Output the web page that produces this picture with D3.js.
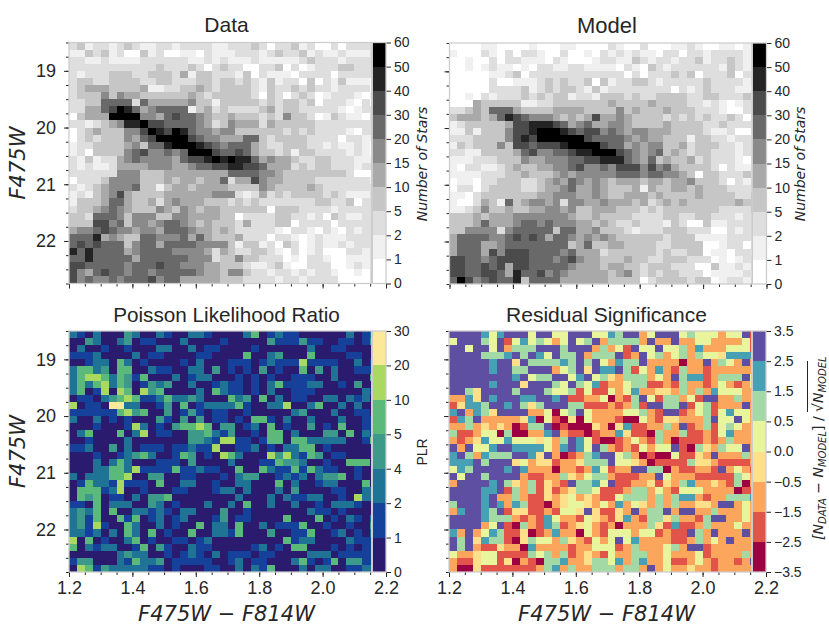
<!DOCTYPE html>
<html>
<head>
<meta charset="utf-8">
<script src="https://d3js.org/d3.v7.min.js"></script>
<style>
  body { margin: 0; background: white; }
  text { font-family: "Liberation Sans", Arial, sans-serif; fill: #262626; }
</style>
</head>
<body>
<div id="chart"></div>
<script>
// Axis extents of the colour magnitude diagram
const colorRange = [1.2, 2.2];
const magRange = [18.5, 22.75];
const binWidth = 0.025;
const binHeight = 0.125;

// Colour bar boundaries
const starBounds = [0, 1, 2, 5, 10, 15, 20, 30, 40, 50, 60];
const plrBounds = [0, 1, 2, 4, 5, 10, 20, 30];
const sigBounds = [-3.5, -2.5, -1.5, -0.5, 0, 0.5, 1.5, 2.5, 3.5];

const starColors = ["#ffffff", "#f0f0f0", "#dedede", "#c6c6c6", "#a9a9a9", "#8a8a8a", "#696969", "#4b4b4b", "#242424", "#000000"];
const plrColors = ["#2b1b6e", "#15419a", "#1f7495", "#3d9a8b", "#5bb97a", "#a9d961", "#fbe999"];
const sigColors = ["#9e0142", "#e2534a", "#fca55c", "#fee08b", "#e8f59c", "#a2d9a4", "#47a0b3", "#5f4fa2"];

// Each row is one magnitude bin from the top, each digit the colour bin of one colour column
const dataRows = [
  "231221232112212222112223202231200202222",
  "113231200312001102111222123223121121112",
  "221121111222222112121112111112322212222",
  "222222222223222320232200223020122233222",
  "212223332233324133222130211102222022222",
  "233223333223322233233232131220302131110",
  "234443333411223343233332132232322122220",
  "233353544333333432333332032023201222101",
  "223366662644444533133333232332302221020",
  "224467986456666134232222342332222210122",
  "034449999554676654334333232533201321102",
  "221234588977666654235444243333322222222",
  "023433355798798655455333333232322221022",
  "023233354679999765544466323333222202211",
  "122333345366899987656664322333221211210",
  "120333356755656999766764332313322221210",
  "213122456555546778989886454432233222111",
  "212112444455544566778877644423233222122",
  "222222555333444444446666554333333332000",
  "022235555333434434462447544333322222221",
  "212345556331344344443333543333432222222",
  "121345743333444444555212423233332321112",
  "133346643342454443332323222222233223022",
  "233456543335435434433333303332222122222",
  "332666535553355444433022223322120321122",
  "333775635545665434333242223302222022222",
  "455676554554666544343222221022102102122",
  "666845433665556464333422202210121112222",
  "676766635664666655553133120320121121222",
  "868666645666655554243223321020120002212",
  "668666664666666555233533222010221001112",
  "776666656667665554433321123100222001212",
  "754676656656666654435532212212122100102",
  "756556566675664444433322221221222200002"
];

const modelRows = [
  "000011000010001100002100200011210011012",
  "100021020221002001021212110220221222212",
  "001002022111021000122113212212231223212",
  "001012110102211221111021032122222213212",
  "000001123022222222222202022232302223022",
  "000002001112323223031223321222223222212",
  "000002222312323321312222222202123222111",
  "001021222323233122133323223333223322232",
  "000433333112233333334333343333221210122",
  "223436664333344443333534333433322210022",
  "344434687655543434744543333232323223202",
  "123333347788876456445543333433332232222",
  "113133357789998767756545544433332112002",
  "222333357879999997666654544333133221222",
  "132333537767778999976645455334233322122",
  "221133334675566788999765456343233222122",
  "111222333544555667788865463433423222102",
  "102211234334455675565777575643333202112",
  "111122233433345455555666566554303322232",
  "011022333223454654543444344344533320212",
  "022023333223445644543334143344343332222",
  "110233333334455544543344434333343333223",
  "100243163455452554454443423434333333433",
  "112353343344554533444333232333333322223",
  "333434445555555433433332222332233222122",
  "333464445665655544343223222132003112222",
  "335555256666636644533321222333222002122",
  "466665567676466545454333333233311112222",
  "466644566666666346334433332233330012202",
  "466647577766665644423333332322330110221",
  "776656777766656754433343322333222010122",
  "776676747766666544434433233322200311212",
  "776677648667565444443453232332220111121",
  "697567668366664444443333023333233012212"
];

const plrRows = [
  "210200032002100221000024012110000002012",
  "003200230110002000010000031113110011013",
  "020010010002200201100001000000200110000",
  "111200002011000011000040023000400001100",
  "001220420100001020001110121115111100201",
  "244230440021100220301010301004030200111",
  "245542431400020122000101010011100200004",
  "242452430132300200121101024111220010300",
  "240150540534000020421101020011100000021",
  "011023454112422320004230402011002202120",
  "501106622001304012222410022500240020200",
  "111111453400301310110010000023000200110",
  "200201010003103030110104410200200020011",
  "000100015201034454033012040100301040011",
  "024000402501100334213001044020003304021",
  "001000020000000332155110144044222220014",
  "112003020111011211500112010224401000000",
  "000100123420014301054200053521430110000",
  "000202420001110300002000114332001004440",
  "000224425111141121100400421141421100100",
  "202224450033001100010233001212023340100",
  "014221511104002200100220004020012200040",
  "044412500100011000122020002030000110022",
  "043401102033400000000200020211220010522",
  "110402220032010002002040020020010222100",
  "232404002212102200030010000000211010000",
  "231400414012012000130110000400040102102",
  "231510042002010040220400201114001001003",
  "221202042040100400221400030011400120102",
  "504010024010011012000000000412200002111",
  "402122001403100211000001201044000101011",
  "000000232200101210201110110000222011111",
  "133000214223011111001201100024101403311",
  "054132222211010001100202140002022001122"
];

const sigRows = [
  "777764677747744777446577247774544424471",
  "477754714645424745725555272272244222241",
  "774774725557775777252417447445262224441",
  "777755567576475572555712745245254436666",
  "777776773755556575742655722220227254272",
  "777776775577724573766751426215221222222",
  "777777776745577467453255524275661255574",
  "777776777377754754612245511215221242124",
  "775377775777544514114246223325252644422",
  "226376777667767112240215741552417722522",
  "136657767535777551112125177557145122272",
  "672653777722404574222244521771245146442",
  "165722222360410304222100421332225744742",
  "225232320155701000320361122527125145422",
  "511244050022672110122631105225112146222",
  "212364464443425764100124215201112125222",
  "727446776666426764752121424471053254472",
  "675265557763720125677452010041132722252",
  "666757773423312235557443201111533211112",
  "465777767622202212641227755021122172421",
  "747757777211225324552111227422211111542",
  "277776753251321755647112231325622321502",
  "777766715251312355411125524214442222011",
  "777767225211323423211455525256621225556",
  "577767626511023443242624325252233277242",
  "267765713311214437311327255727722522242",
  "777765552121642214321362155352215772242",
  "777724710521651234212022253161125222422",
  "627246511301262204214442441211752722272",
  "757365510354425321424746222211252427222",
  "757211322062222122444125222452771222222",
  "422344111154525123214225522422241222252",
  "211344130210556223554625622411242122127",
  "200311111112562522555255272422322122222"
];

const width = 829, height = 629;

const svg = d3.select("#chart")
    .append("svg")
    .attr("width", width)
    .attr("height", height);

// Panel positions in pixels
const panels = [
  {title: "Data", rows: dataRows, colors: starColors, bounds: starBounds, left: 69, top: 42.5, titleSize: 21, titleY: 32, showX: false, showY: true},
  {title: "Model", rows: modelRows, colors: starColors, bounds: starBounds, left: 449.5, top: 43, titleSize: 22, titleY: 33, showX: false, showY: false},
  {title: "Poisson Likelihood Ratio", rows: plrRows, colors: plrColors, bounds: plrBounds, left: 69, top: 331, titleSize: 20.7, titleY: 322, showX: true, showY: true},
  {title: "Residual Significance", rows: sigRows, colors: sigColors, bounds: sigBounds, left: 449, top: 331, titleSize: 21, titleY: 322, showX: true, showY: false}
];

const panelW = 317, panelH = 241;
const barW = 13.5;

function drawPanel(p) {
    const g = svg.append("g").attr("transform", `translate(${p.left},${p.top})`);

    const xScale = d3.scaleLinear().domain(colorRange).range([0, panelW]);
    const yScale = d3.scaleLinear().domain(magRange).range([0, panelH]);
    const colorScale = d3.scaleOrdinal().domain(d3.range(p.colors.length)).range(p.colors);

    // Heat map cells
    const cells = [];
    p.rows.forEach((row, r) => {
        Array.from(row).forEach((c, i) => {
            cells.push({col: i, row: r, bin: +c});
        });
    });
    g.selectAll("rect.cell")
        .data(cells)
        .enter().append("rect")
        .attr("class", "cell")
        .attr("x", d => xScale(colorRange[0] + d.col * binWidth))
        .attr("y", d => yScale(magRange[0] + d.row * binHeight))
        .attr("width", xScale(colorRange[0] + binWidth) - xScale(colorRange[0]))
        .attr("height", yScale(magRange[0] + binHeight) - yScale(magRange[0]))
        .attr("fill", d => colorScale(d.bin))
        .attr("shape-rendering", "crispEdges");

    // Colour bar sits inside the axes on the right
    const nBins = p.colors.length;
    const barScale = d3.scaleLinear().domain([0, nBins]).range([panelH, 0]);
    g.append("rect")
        .attr("x", panelW - barW - 1.5)
        .attr("y", 0)
        .attr("width", barW + 1.5)
        .attr("height", panelH)
        .attr("fill", "#cccccc");
    g.selectAll("rect.bar")
        .data(d3.range(nBins))
        .enter().append("rect")
        .attr("class", "bar")
        .attr("x", panelW - barW)
        .attr("y", d => barScale(d + 1))
        .attr("width", barW)
        .attr("height", barScale(0) - barScale(1))
        .attr("fill", d => colorScale(d))
        .attr("shape-rendering", "crispEdges");

    const barAxis = d3.axisRight(barScale)
        .tickValues(d3.range(nBins + 1))
        .tickFormat(d => {
            const v = p.bounds[d];
            if (p.bounds[0] < 0) return d3.format(".1f")(v).replace("-", "\u2212");
            return v;
        })
        .tickSize(5)
        .tickPadding(3);
    const barG = g.append("g")
        .attr("transform", `translate(${panelW},0)`)
        .call(barAxis);
    barG.select(".domain").remove();
    barG.selectAll("line").attr("stroke", "#262626").attr("stroke-width", 1);
    barG.selectAll("text").style("font-size", "14px").attr("fill", "#262626");

    // Axes with major and minor ticks
    const xMajor = d3.range(1.2, 2.21, 0.2);
    const xMinor = d3.range(1.2, 2.21, 0.05);
    const yMajor = [19, 20, 21, 22];
    const yMinor = d3.range(18.5, 22.76, 0.25);

    const xMinorG = g.append("g").attr("transform", `translate(0,${panelH})`)
        .call(d3.axisBottom(xScale).tickValues(xMinor).tickSize(3).tickFormat(""));
    const xMajorG = g.append("g").attr("transform", `translate(0,${panelH})`)
        .call(d3.axisBottom(xScale).tickValues(xMajor).tickSize(5).tickPadding(4)
            .tickFormat(p.showX ? d3.format(".1f") : ""));
    const yMinorG = g.append("g")
        .call(d3.axisLeft(yScale).tickValues(yMinor).tickSize(3).tickFormat(""));
    const yMajorG = g.append("g")
        .call(d3.axisLeft(yScale).tickValues(yMajor).tickSize(5).tickPadding(8)
            .tickFormat(p.showY ? d3.format("d") : ""));

    [xMinorG, xMajorG, yMinorG, yMajorG].forEach(a => {
        a.select(".domain").remove();
        a.selectAll("line").attr("stroke", "#262626").attr("stroke-width", 1);
        a.selectAll("text").style("font-size", "18px").attr("fill", "#262626");
    });

    // Frame
    g.append("rect")
        .attr("width", panelW)
        .attr("height", panelH)
        .attr("fill", "none")
        .attr("stroke", "#cccccc")
        .attr("stroke-width", 1.25);

    // Title
    svg.append("text")
        .attr("x", p.left + panelW / 2 - 1)
        .attr("y", p.titleY)
        .style("text-anchor", "middle")
        .style("font-size", p.titleSize + "px")
        .text(p.title);

    // Axis labels
    if (p.showX) {
        svg.append("text")
            .attr("x", p.left + panelW / 2 - 1)
            .attr("y", 621)
            .style("text-anchor", "middle")
            .style("font-family", "'DejaVu Sans'")
            .style("font-style", "italic")
            .style("font-size", "21px")
            .text("F475W \u2212 F814W");
    }
    if (p.showY) {
        svg.append("text")
            .attr("transform", `translate(25,${p.top + panelH / 2}) rotate(-90)`)
            .style("text-anchor", "middle")
            .style("font-family", "'DejaVu Sans'")
            .style("font-style", "italic")
            .style("font-size", "21px")
            .text("F475W");
    }
}

panels.forEach(drawPanel);

// Colour bar labels
[427, 805].forEach(x => {
    svg.append("text")
        .attr("transform", `translate(${x},164) rotate(-90)`)
        .style("text-anchor", "middle")
        .style("font-family", "'DejaVu Sans'")
        .style("font-style", "italic")
        .style("font-size", "14px")
        .text("Number of Stars");
});

svg.append("text")
    .attr("transform", "translate(427,452) rotate(-90)")
    .style("text-anchor", "middle")
    .style("font-size", "14px")
    .text("PLR");

// Residual label with its root bar
const sigLabel = svg.append("text")
    .attr("transform", "translate(823,540) rotate(-90)")
    .style("font-family", "'DejaVu Sans'")
    .style("font-style", "italic")
    .style("font-size", "14px");
sigLabel.append("tspan").text("[N");
sigLabel.append("tspan").attr("dy", 3).style("font-size", "10px").text("DATA");
sigLabel.append("tspan").attr("dy", -3).text(" \u2212 N");
sigLabel.append("tspan").attr("dy", 3).style("font-size", "10px").text("MODEL");
sigLabel.append("tspan").attr("dy", -3).style("font-style", "normal").text("] / \u221A");
sigLabel.append("tspan").text("N");
sigLabel.append("tspan").attr("dy", 3).style("font-size", "10px").text("MODEL");

svg.append("line")
    .attr("x1", 807.5).attr("x2", 807.5)
    .attr("y1", 361).attr("y2", 412)
    .attr("stroke", "#262626")
    .attr("stroke-width", 1);
</script>
</body>
</html>
